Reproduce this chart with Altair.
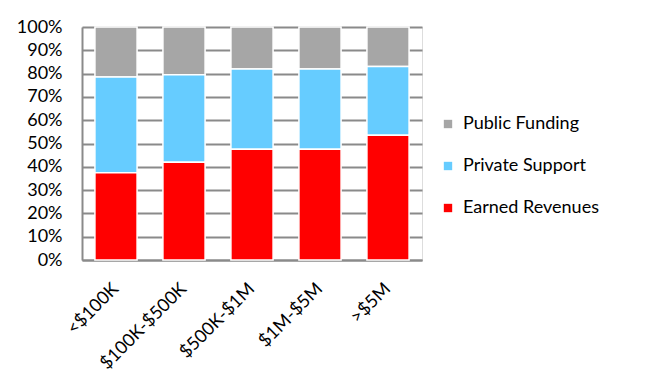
import altair as alt
import pandas as pd

categories = ["<$100K", "$100K-$500K", "$500K-$1M", "$1M-$5M", ">$5M"]
series = ["Public Funding", "Private Support", "Earned Revenues"]
earned = [37.5, 42.0, 47.5, 47.5, 53.5]
private = [41.0, 37.5, 34.5, 34.5, 29.5]
public = [21.5, 20.5, 18.0, 18.0, 17.0]
colors = ["#A6A6A6", "#66CCFF", "#FF0000"]
stack_rank = {"Earned Revenues": 0, "Private Support": 1, "Public Funding": 2}

rows = []
for i, c in enumerate(categories):
    for s, vals in zip(series, [public, private, earned]):
        rows.append({"cat": c, "series": s, "value": vals[i] / 100.0, "rank": stack_rank[s]})
df = pd.DataFrame(rows)

FONT = "Lato"
FS = 18

chart = alt.Chart(df).mark_bar(stroke="white", strokeWidth=1.5).encode(
    x=alt.X("cat:N", sort=categories, title=None,
            scale=alt.Scale(paddingInner=0.38, paddingOuter=0.19),
            axis=alt.Axis(labelAngle=-45, labelFontSize=FS, labelFont=FONT, labelColor="#000",
                          labelPadding=26, ticks=False, domainColor="#8a8a8a", domainWidth=2,
                          labelAlign="right", labelBaseline="middle")),
    y=alt.Y("value:Q", stack="zero", title=None,
            scale=alt.Scale(domain=[0, 1]),
            axis=alt.Axis(format=".0%", values=[i / 10 for i in range(11)], labelFontSize=FS,
                          labelFont=FONT, labelColor="#000", ticks=False, labelPadding=20,
                          grid=True, gridColor="#8a8a8a", gridWidth=2,
                          domainColor="#8a8a8a", domainWidth=2)),
    color=alt.Color("series:N", sort=series,
                    scale=alt.Scale(domain=series, range=colors),
                    legend=alt.Legend(title=None, orient="none", legendX=357, legendY=88,
                                      symbolType="square", symbolSize=70, symbolStrokeWidth=0,
                                      labelFontSize=FS, labelFont=FONT, labelColor="#000",
                                      rowPadding=24, labelOffset=6)),
    order=alt.Order("rank:Q", sort="ascending"),
).properties(
    width=340, height=233,
    padding={"left": 74, "top": 19, "right": 222, "bottom": 122},
    autosize=alt.AutoSizeParams(type="none"),
).configure_view(stroke=None).configure(background="white")

chart.save("out.html", embed_options={"renderer": "svg", "actions": False})
